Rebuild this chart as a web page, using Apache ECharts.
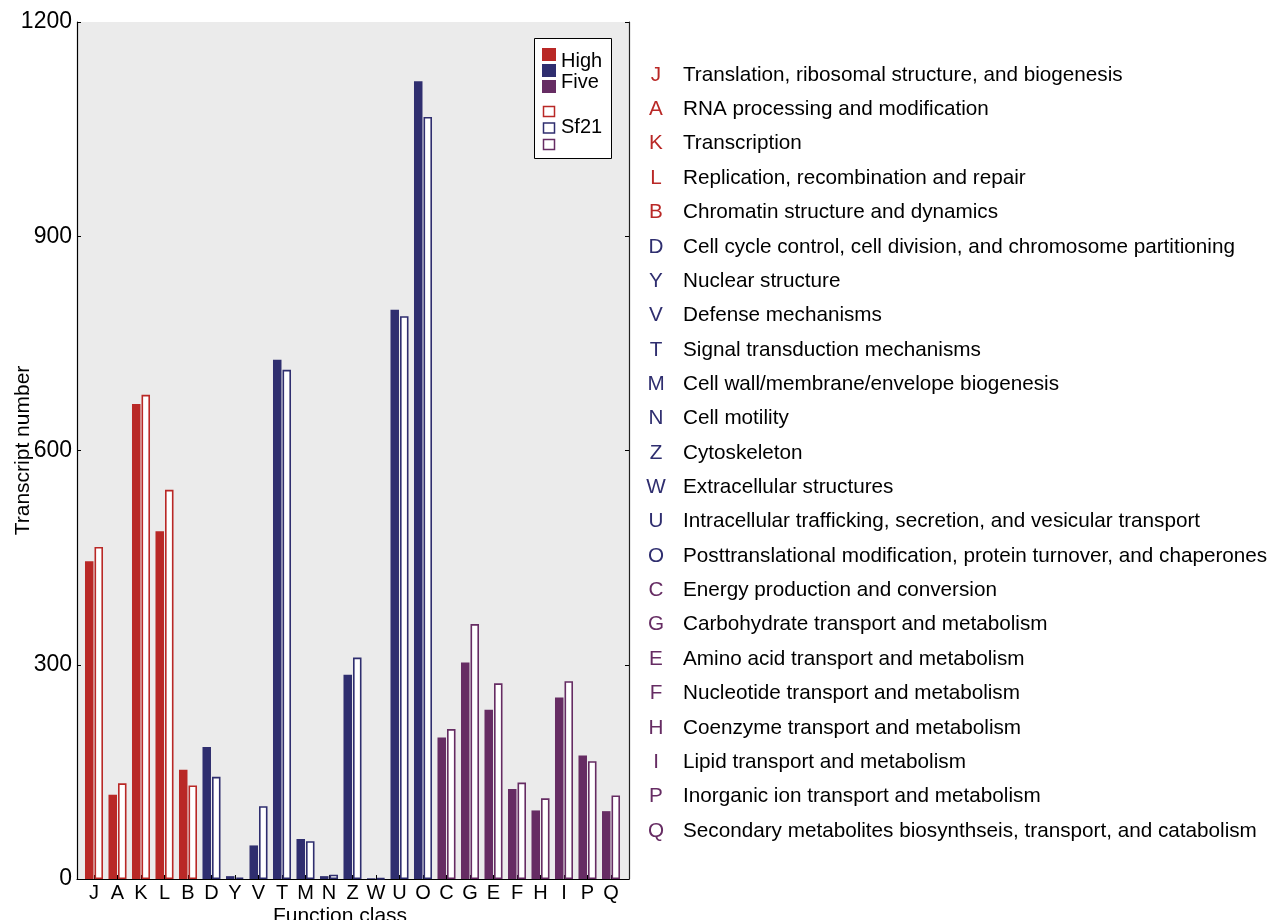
<!DOCTYPE html>
<html>
<head>
<meta charset="utf-8">
<script src="https://cdn.jsdelivr.net/npm/echarts@6/dist/echarts.min.js"></script>
<style>
html,body{margin:0;padding:0;background:#fff;}
#chart{width:1268px;height:920px;}
</style>
</head>
<body>
<div id="chart"></div>
<script>
// ---- data ----
var categories = ['J','A','K','L','B','D','Y','V','T','M','N','Z','W','U','O','C','G','E','F','H','I','P','Q'];
var groupOf   = [0,0,0,0,0, 1,1,1,1,1,1,1,1,1,1, 2,2,2,2,2,2,2,2];
var highFive  = [445,118,665,487,153,185,4,47,727,56,4,286,1,797,1117,198,303,237,126,96,254,173,95];
var sf21      = [465,134,678,545,131,143,2,102,713,53,6,310,1,788,1067,210,357,274,135,113,277,165,117];
var descriptions = [
  'Translation, ribosomal structure, and biogenesis',
  'RNA processing and modification',
  'Transcription',
  'Replication, recombination and repair',
  'Chromatin structure and dynamics',
  'Cell cycle control, cell division, and chromosome partitioning',
  'Nuclear structure',
  'Defense mechanisms',
  'Signal transduction mechanisms',
  'Cell wall/membrane/envelope biogenesis',
  'Cell motility',
  'Cytoskeleton',
  'Extracellular structures',
  'Intracellular trafficking, secretion, and vesicular transport',
  'Posttranslational modification, protein turnover, and chaperones',
  'Energy production and conversion',
  'Carbohydrate transport and metabolism',
  'Amino acid transport and metabolism',
  'Nucleotide transport and metabolism',
  'Coenzyme transport and metabolism',
  'Lipid transport and metabolism',
  'Inorganic ion transport and metabolism',
  'Secondary metabolites biosynthseis, transport, and catabolism'
];
var yTicks = [0,300,600,900,1200];
var seriesNames = ['High Five','Sf21'];
var groupColors = ['#b92826','#2f2e6f','#662c63'];

// ---- chart ----
var FONT = '"Liberation Sans", Arial, Helvetica, sans-serif';
var chart = echarts.init(document.getElementById('chart'), null, {renderer:'canvas'});

var filledData = highFive.map(function(v,i){
  return {value:v, itemStyle:{color:groupColors[groupOf[i]]}};
});
var hollowData = sf21.map(function(v,i){
  return {value:v, itemStyle:{color:'#ffffff', borderColor:groupColors[groupOf[i]], borderWidth:1.6}};
});

var graphics = [];
// legend box
graphics.push({type:'rect', shape:{x:534.5,y:38.5,width:77,height:120}, style:{fill:'#fff',stroke:'#000',lineWidth:1}, z:100});
groupColors.forEach(function(c,k){
  graphics.push({type:'rect', shape:{x:542,y:48+16*k,width:14,height:13}, style:{fill:c}, z:101});
  graphics.push({type:'rect', shape:{x:543.5,y:106.5+16.5*k,width:11,height:10}, style:{fill:'#fff',stroke:c,lineWidth:1.5}, z:101});
});
graphics.push({type:'text', x:561, y:61, style:{text:'High', font:'20px '+FONT, fill:'#000', textVerticalAlign:'middle'}, z:102});
graphics.push({type:'text', x:561, y:82, style:{text:'Five', font:'20px '+FONT, fill:'#000', textVerticalAlign:'middle'}, z:102});
graphics.push({type:'text', x:561, y:127, style:{text:'Sf21', font:'20px '+FONT, fill:'#000', textVerticalAlign:'middle'}, z:102});
// x axis title
graphics.push({type:'text', x:340, y:916, style:{text:'Function class', font:'21px '+FONT, fill:'#000', textAlign:'center', textVerticalAlign:'middle'}, z:102});
// category description list
categories.forEach(function(c,i){
  var y = 75 + i*34.36;
  graphics.push({type:'text', x:656, y:y, style:{text:c, font:'20.7px '+FONT, fill:groupColors[groupOf[i]], textAlign:'center', textVerticalAlign:'middle'}, z:102});
  graphics.push({type:'text', x:683, y:y, style:{text:descriptions[i], font:'20.7px '+FONT, fill:'#000', textAlign:'left', textVerticalAlign:'middle'}, z:102});
});

var option = {
  animation:false,
  backgroundColor:'#fff',
  textStyle:{fontFamily:FONT},
  grid:[
    {left:77, top:22, width:552, height:857, show:true, backgroundColor:'#ebebeb', borderWidth:0, containLabel:false, outerBoundsMode:'none'},
    {left:82.25, top:22, width:540.5, height:857, containLabel:false, outerBoundsMode:'none'}
  ],
  xAxis:[
    {gridIndex:0, type:'value', min:0, max:1, axisLine:{show:true, lineStyle:{color:'#000', width:1.2}}, axisTick:{show:false}, axisLabel:{show:false}, splitLine:{show:false}},
    {gridIndex:1, type:'category', data:categories,
     axisLine:{show:true, lineStyle:{color:'#000', width:1.2}},
     axisTick:{show:true, inside:true, alignWithLabel:true, length:4, lineStyle:{color:'#000'}},
     axisLabel:{color:'#000', fontSize:20, margin:4, interval:0, fontFamily:FONT}}
  ],
  yAxis:[
    {gridIndex:0, type:'value', min:yTicks[0], max:yTicks[yTicks.length-1], interval:300,
     name:'Transcript number', nameLocation:'middle', nameGap:43, nameRotate:90, nameMoveOverlap:false,
     nameTextStyle:{color:'#000', fontSize:21, fontFamily:FONT},
     axisLine:{show:true, lineStyle:{color:'#000', width:1.2}},
     axisTick:{show:true, inside:true, length:4, lineStyle:{color:'#000'}},
     axisLabel:{color:'#000', fontSize:23, margin:5, fontFamily:FONT, formatter:function(v){return String(v);}},
     splitLine:{show:false}},
    {gridIndex:0, type:'value', position:'right', min:yTicks[0], max:yTicks[yTicks.length-1], interval:300,
     axisLine:{show:true, lineStyle:{color:'#222', width:1.2}},
     axisTick:{show:true, inside:true, length:4, lineStyle:{color:'#000'}},
     axisLabel:{show:false}, splitLine:{show:false}},
    {gridIndex:1, type:'value', min:yTicks[0], max:yTicks[yTicks.length-1], show:false, splitLine:{show:false}}
  ],
  series:[
    {name:seriesNames[0], type:'bar', xAxisIndex:1, yAxisIndex:2, barWidth:8.5, barGap:'12%', data:filledData},
    {name:seriesNames[1], type:'bar', xAxisIndex:1, yAxisIndex:2, barWidth:8.5, barGap:'12%', data:hollowData}
  ],
  graphic:graphics
};
chart.setOption(option);
</script>
</body>
</html>
